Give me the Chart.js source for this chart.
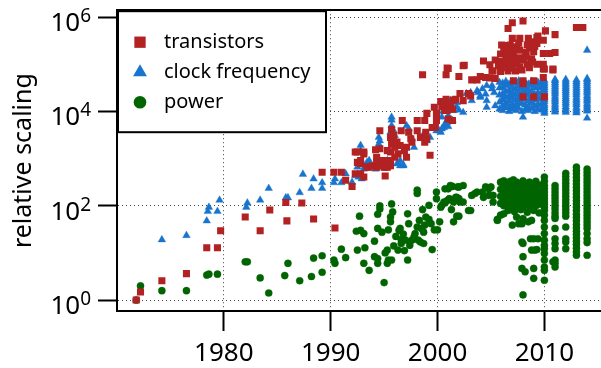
<!DOCTYPE html>
<html>
<head>
<meta charset="utf-8">
<script src="https://cdn.jsdelivr.net/npm/chart.js@4/dist/chart.umd.min.js"></script>
<style>
  html, body { margin: 0; padding: 0; background: #fff; }
  #wrap { width: 601px; height: 368px; }
</style>
</head>
<body>
<div id="wrap"><canvas id="scaling" width="601" height="368"></canvas></div>
<script>
// --- DATA: [year, log10(relative scaling)] ---
const transistors = [
  [1971.8,0.00],[1972.2,0.17],[1974.2,0.41],[1976.5,0.56],[1978.4,1.11],[1979.4,1.11],[1979.7,1.47],
  [1982.0,1.76],[1983.4,1.47],[1984.3,1.91],[1985.8,2.07],[1985.9,1.68],[1987.3,2.06],[1988.4,1.72],
  [1989.2,2.71],[1990.3,2.71],[1991.0,2.71],[1990.4,1.53],[1991.4,2.54],
  [1992.0,2.41],[1992.3,2.68],[1992.8,2.68],[1993.1,2.61],[1992.8,2.89],[1993.4,2.82],[1993.9,2.85],
  [1994.3,2.82],[1994.3,2.92],[1995.1,2.82],[1995.4,2.85],[1995.1,2.63],[1995.6,2.89],
  [1992.3,3.14],[1993.1,3.14],[1992.5,2.92],[1992.5,3.14],[1993.1,3.10],[1992.8,2.96],[1993.6,2.82],
  [1994.6,3.59],[1995.7,3.62],[1996.7,3.81],[1998.1,3.81],[1998.8,3.81],
  [1994.6,3.21],[1994.2,3.19],[1994.3,3.03],[1994.8,2.96],[1995.0,2.82],[1994.5,2.85],[1995.4,2.96],
  [1995.6,2.85],[1995.3,2.82],[1995.6,3.45],[1995.9,3.49],[1995.7,3.31],[1996.0,3.24],[1996.2,3.35],
  [1996.5,3.28],[1996.3,3.10],[1996.0,3.03],[1995.6,3.14],[1995.3,3.17],
  [1996.6,3.59],[1997.3,3.56],[1997.5,3.42],[1997.6,3.35],[1997.1,3.24],[1997.1,3.03],[1996.9,3.17],
  [1998.1,3.59],[1998.4,3.45],[1998.9,3.56],[1999.0,3.42],[1998.8,3.35],[1999.5,3.66],[1999.8,3.66],
  [1999.3,3.07],[1998.6,4.78],[1999.0,3.96],[1999.7,4.09],[1999.9,3.96],[1999.9,3.81],
  [2000.3,4.21],[2000.8,4.26],[2000.7,4.10],[2000.9,4.02],
  [2000.8,4.78],[2000.9,4.92],[2001.0,4.91],[2002.4,4.97],[2002.5,4.98],[2002.0,4.74],
  [2003.2,4.67],[2003.7,4.67],[2004.0,4.74],[2004.5,4.72],[2004.9,4.71],[2005.4,4.70],
  [2007.1,4.65],[2008.0,4.65],[2008.0,4.59],[2009.0,4.65],[2009.9,4.72],
  [2008.0,4.31],[2009.0,4.31],[2010.0,4.31],[2002.1,4.38],[2002.9,4.38],[2003.1,4.33],
  [2001.5,4.24],[2002.4,4.23],[2000.6,4.19],[2001.2,4.16],[2000.4,4.10],[2001.7,4.26],
  [2001.4,4.05],[2000.7,4.02],[2001.0,3.84],[2001.4,3.81],
  [2007.0,5.88],[2008.0,5.92],[2006.6,5.76],[2013.0,5.78],[2013.6,5.78],[2010.1,5.71],[2011.0,5.63],
  [2007.0,5.55],[2007.7,5.55],[2008.5,5.55],[2009.3,5.57],[2009.9,5.51],[2009.4,5.60],
  [2006.0,5.41],[2006.8,5.41],[2007.4,5.37],[2008.4,5.41],[2009.3,5.44],
  [2007.7,5.30],[2008.3,5.25],[2009.0,5.27],[2009.9,5.23],[2010.5,5.23],[2011.0,5.25],
  [2005.9,5.22],[2006.5,5.18],[2007.1,5.20],
  [2004.3,5.07],[2005.4,5.09],[2005.9,5.06],[2006.5,5.07],[2007.3,5.05],[2008.0,5.09],
  [2004.9,4.99],[2005.7,4.97],[2006.5,4.97],[2007.4,5.00],[2008.4,5.00],[2009.3,5.00],
  [2009.9,5.00],[2009.9,4.90],[2010.8,4.88],[2010.0,4.90],[2010.8,4.90],
  [2005.1,4.86],[2005.9,4.85],[2006.6,4.86],[2007.3,4.86],[2007.9,4.88],[2005.2,4.86],
  [2006.2,5.30],[2006.8,5.28],[2007.2,5.32],[2006.4,5.13],[2007.0,5.12],[2007.6,5.14],
  [2008.2,5.15],[2008.8,5.12],[2006.1,4.93],[2006.9,4.92],[2007.7,4.95],[2008.6,4.93],
  [2006.3,5.40],[2007.6,5.45],[2008.8,5.48],[2008.6,5.35],[2009.1,5.38],[2006.8,5.02],[2008.9,5.05]
];

const clockFreq = [
  [1971.8,0.00],[1974.2,1.28],[1976.5,1.37],[1978.4,1.68],[1978.5,1.88],[1978.6,1.97],[1979.4,1.88],
  [1979.6,2.12],[1982.2,2.06],[1982.1,1.97],[1983.4,2.12],[1984.2,2.37],[1985.8,2.17],[1986.0,2.17],
  [1987.1,2.28],[1987.4,2.67],[1988.2,2.37],[1988.4,2.57],[1989.2,2.49],[1989.2,2.37],[1990.3,2.49],
  [1990.4,2.57],[1991.0,2.49],[1991.4,2.68],
  [1992.0,2.50],[1992.3,2.64],[1992.6,2.61],[1992.9,2.57],[1993.1,2.78],[1993.4,2.92],[1992.8,2.89],
  [1994.2,2.78],[1994.6,2.85],[1995.1,2.82],[1996.2,2.89],[1996.5,2.85],[1996.8,2.87],
  [1992.8,3.28],[1992.8,3.17],[1994.5,3.45],[1994.6,3.38],[1994.5,3.31],[1995.7,3.82],[1995.7,3.70],
  [1995.9,3.59],[1996.0,3.49],[1997.1,3.70],[1997.3,3.63],[1997.6,3.42],[1997.8,3.24],[1998.7,3.52],
  [1999.0,3.38],[1999.3,3.45],[2000.6,3.66],[2000.9,3.77],[2001.0,3.91],[2000.3,3.56],[1999.9,3.59],
  [1996.5,2.96],[1996.8,2.85],[1993.6,2.96],[1993.2,2.83],[1992.5,2.82],[1995.6,3.56],[1995.3,2.96],
  [1995.7,3.88],[2000.2,3.59],[2000.7,3.74],[2000.4,3.88],[2000.9,3.81],[2000.4,3.63],[2001.0,3.68],
  [2001.4,3.81],[2000.8,4.20],[2001.3,4.14],[2000.5,4.00],[2001.2,4.23],[2001.8,4.19],
  [2002.0,4.03],[2002.4,3.98],[2003.1,4.40],[2003.2,4.23],[2003.8,4.40],[2004.2,4.48],[2004.5,4.37],
  [2004.0,4.30],[2004.6,4.09],[2005.4,4.12],[2005.1,4.55],[2005.1,4.48],[2005.3,4.40],[2004.6,4.55],
  [2003.7,4.44],[2004.0,4.33],[2004.6,4.23],[2002.7,4.38],[2001.5,4.02],[2001.8,4.09],
  // dense block 2006-2010
  [2005.8,4.05],[2005.8,4.20],[2005.8,4.35],[2005.8,4.50],[2005.8,4.62],
  [2006.1,4.02],[2006.1,4.12],[2006.1,4.25],[2006.1,4.38],[2006.1,4.50],[2006.1,4.60],
  [2006.4,4.08],[2006.4,4.18],[2006.4,4.30],[2006.4,4.42],[2006.4,4.55],[2006.4,4.64],
  [2006.7,4.00],[2006.7,4.10],[2006.7,4.22],[2006.7,4.33],[2006.7,4.45],[2006.7,4.58],
  [2007.0,4.05],[2007.0,4.15],[2007.0,4.28],[2007.0,4.40],[2007.0,4.52],[2007.0,4.63],
  [2007.3,4.02],[2007.3,4.12],[2007.3,4.24],[2007.3,4.36],[2007.3,4.48],[2007.3,4.60],
  [2007.6,4.06],[2007.6,4.18],[2007.6,4.30],[2007.6,4.42],[2007.6,4.54],[2007.6,4.65],
  [2007.9,4.00],[2007.9,4.17],[2007.9,4.26],[2007.9,4.38],[2007.9,4.50],[2007.9,4.61],
  [2008.2,4.04],[2008.2,4.14],[2008.2,4.28],[2008.2,4.40],[2008.2,4.52],[2008.2,4.62],
  [2008.5,4.02],[2008.5,4.10],[2008.5,4.22],[2008.5,4.35],[2008.5,4.47],[2008.5,4.58],
  [2008.8,4.06],[2008.8,4.18],[2008.8,4.30],[2008.8,4.43],[2008.8,4.55],[2008.8,4.64],
  [2009.1,4.00],[2009.1,4.12],[2009.1,4.25],[2009.1,4.37],[2009.1,4.50],[2009.1,4.60],
  [2009.4,4.05],[2009.4,4.16],[2009.4,4.28],[2009.4,4.40],[2009.4,4.52],[2009.4,4.62],
  [2009.7,4.03],[2009.7,4.14],[2009.7,4.26],[2009.7,4.38],[2009.7,4.50],[2009.7,4.60],
  [2006.2,4.32],[2006.9,4.36],[2007.5,4.20],[2008.1,4.46],[2008.7,4.24],[2009.3,4.34],
  // yearly columns 2010-2014
  [2010.0,3.96],[2010.0,4.00],[2010.0,4.04],[2010.0,4.08],[2010.0,4.12],[2010.0,4.16],[2010.0,4.21],
  [2010.0,4.25],[2010.0,4.29],[2010.0,4.33],[2010.0,4.38],[2010.0,4.42],[2010.0,4.46],[2010.0,4.50],
  [2010.0,4.54],[2010.0,4.58],[2010.0,4.62],[2010.0,4.66],
  [2011.0,3.99],[2011.0,4.03],[2011.0,4.07],[2011.0,4.11],[2011.0,4.15],[2011.0,4.20],[2011.0,4.24],
  [2011.0,4.28],[2011.0,4.32],[2011.0,4.37],[2011.0,4.41],[2011.0,4.45],[2011.0,4.49],[2011.0,4.53],
  [2011.0,4.57],[2011.0,4.61],[2011.0,4.65],[2011.0,4.68],
  [2012.0,3.98],[2012.0,4.02],[2012.0,4.06],[2012.0,4.10],[2012.0,4.15],[2012.0,4.19],[2012.0,4.23],
  [2012.0,4.27],[2012.0,4.31],[2012.0,4.36],[2012.0,4.40],[2012.0,4.44],[2012.0,4.48],[2012.0,4.52],
  [2012.0,4.56],[2012.0,4.60],[2012.0,4.64],[2012.0,4.68],
  [2013.0,3.97],[2013.0,4.01],[2013.0,4.05],[2013.0,4.09],[2013.0,4.14],[2013.0,4.18],[2013.0,4.22],
  [2013.0,4.26],[2013.0,4.30],[2013.0,4.35],[2013.0,4.39],[2013.0,4.43],[2013.0,4.47],[2013.0,4.51],
  [2013.0,4.55],[2013.0,4.59],[2013.0,4.63],[2013.0,4.67],
  [2014.0,4.01],[2014.0,4.05],[2014.0,4.09],[2014.0,4.13],[2014.0,4.17],[2014.0,4.22],[2014.0,4.26],
  [2014.0,4.30],[2014.0,4.34],[2014.0,4.39],[2014.0,4.43],[2014.0,4.47],[2014.0,4.51],[2014.0,4.55],
  [2014.0,4.59],[2014.0,4.63],[2014.0,4.67],[2014.0,4.70],
  [2008.0,3.88],[2014.0,3.86],[2014.0,5.30]
];

const power = [
  [1971.8,0.00],[1972.2,0.30],[1974.2,0.20],[1976.5,0.20],[1978.4,0.53],[1978.6,0.55],[1979.4,0.55],
  [1982.0,0.81],[1982.2,0.81],[1983.4,0.47],[1984.2,0.15],[1985.7,0.52],[1986.0,0.78],[1987.1,0.41],
  [1988.2,0.50],[1988.4,0.89],[1989.2,0.94],[1989.2,0.59],[1990.3,0.85],[1990.4,0.78],[1991.0,1.08],
  [1991.4,0.90],
  [1992.4,1.46],[1992.8,1.48],[1993.1,1.41],[1992.7,1.78],[1992.5,1.06],[1993.2,1.11],[1993.1,0.78],
  [1993.6,0.63],[1994.1,0.92],[1994.4,0.88],[1994.4,0.78],[1994.6,2.00],[1994.6,1.93],[1994.4,1.82],
  [1994.4,1.52],[1994.1,1.25],[1994.8,1.44],[1995.0,0.37],[1995.1,1.00],[1995.3,1.06],[1995.3,0.78],
  [1995.4,0.85],[1995.4,1.49],[1995.6,1.66],[1995.8,1.87],[1995.6,1.76],[1995.7,2.04],[1995.7,0.85],
  [1996.3,1.06],[1996.1,1.35],[1996.4,1.48],[1996.5,1.52],[1996.6,1.28],[1996.6,1.20],[1997.0,1.27],
  [1997.2,0.85],[1997.2,1.83],[1997.3,1.62],[1997.4,1.16],[1997.6,1.27],[1997.8,1.34],[1997.9,1.41],
  [1998.1,1.55],[1998.1,2.26],[1998.1,2.33],[1998.2,1.27],[1998.4,1.23],[1998.3,1.69],[1998.5,1.52],
  [1998.7,1.44],[1998.8,1.59],[1998.7,1.20],[1998.6,1.92],[1998.9,1.76],[1999.2,1.71],[1999.4,1.62],
  [1999.2,2.01],[1999.5,1.07],[1999.7,1.49],[2000.0,1.49],[1999.9,2.29],[1999.9,2.15],[2000.2,1.66],
  [2000.4,2.01],[2000.7,2.06],[2000.9,2.11],[2001.1,2.15],[2001.0,2.36],[2001.4,2.41],[2001.9,2.40],
  [2001.3,1.92],[2001.5,1.66],[2002.0,1.78],[2001.5,2.11],[2001.8,2.18],[1996.8,1.40],[1995.9,1.15],
  [1996.9,1.05],
  [2002.4,2.43],[2001.2,2.43],[2002.1,2.08],[2001.5,2.08],[2002.9,1.90],[2003.1,1.90],[2003.2,2.22],
  [2003.5,2.26],[2003.7,2.29],[2004.2,2.29],[2004.5,2.40],[2004.8,2.36],[2005.0,2.40],[2004.3,2.18],
  [2004.8,2.22],[2005.2,2.22],[2005.2,2.08],[2005.6,1.69],[2005.9,1.80],[2006.2,1.83],[2002.0,2.15],
  [2002.4,2.08],[2000.6,2.08],[2001.7,2.18],[2000.3,1.97],[2002.0,2.40],[2000.7,2.36],[2001.8,1.78],
  // dense block 2006-2010
  [2005.9,2.05],[2005.9,2.20],[2005.9,2.35],[2005.9,2.50],
  [2006.2,2.00],[2006.2,2.12],[2006.2,2.28],[2006.2,2.42],[2006.2,2.53],
  [2006.5,2.04],[2006.5,2.18],[2006.5,2.32],[2006.5,2.46],
  [2006.8,1.98],[2006.8,2.10],[2006.8,2.25],[2006.8,2.38],[2006.8,2.52],
  [2007.1,2.02],[2007.1,2.15],[2007.1,2.30],[2007.1,2.44],[2007.1,2.55],
  [2007.4,1.99],[2007.4,2.08],[2007.4,2.22],[2007.4,2.36],[2007.4,2.50],
  [2007.7,2.04],[2007.7,2.17],[2007.7,2.31],[2007.7,2.45],
  [2008.0,1.98],[2008.0,2.12],[2008.0,2.26],[2008.0,2.40],[2008.0,2.53],
  [2008.3,2.03],[2008.3,2.16],[2008.3,2.30],[2008.3,2.43],
  [2008.6,1.99],[2008.6,2.10],[2008.6,2.24],[2008.6,2.38],[2008.6,2.50],
  [2008.9,2.05],[2008.9,2.18],[2008.9,2.32],[2008.9,2.46],
  [2009.2,2.00],[2009.2,2.14],[2009.2,2.28],[2009.2,2.42],[2009.2,2.52],
  [2009.5,2.03],[2009.5,2.16],[2009.5,2.30],[2009.5,2.44],
  [2006.6,1.90],[2007.2,1.88],[2007.8,1.92],[2008.4,1.86],[2009.0,1.90],[2009.5,1.85],[2005.6,1.71],
  [2007.0,1.59],[2007.6,1.62],[2007.9,1.62],[2008.5,1.66],[2008.8,1.69],[2008.0,1.73],[2007.4,1.76],
  [2007.9,1.23],[2008.0,0.92],[2007.9,0.67],[2008.2,0.60],[2008.0,0.11],[2008.0,1.20],
  [2008.7,1.30],[2009.0,1.30],[2009.4,1.30],[2008.8,1.06],[2009.1,1.06],[2009.3,1.07],
  [2009.0,0.67],[2009.0,0.46],[2010.8,0.81],[2011.0,0.70],
  // yearly columns 2010-2014
  [2010.0,2.61],[2010.0,2.52],[2010.0,2.43],[2010.0,2.36],[2010.0,2.29],[2010.0,2.22],[2010.0,2.15],
  [2010.0,2.08],[2010.0,2.02],[2010.0,1.96],[2010.0,1.90],[2010.0,1.80],[2010.0,1.69],[2010.0,1.55],
  [2010.0,1.41],[2010.0,1.27],[2010.0,1.16],[2010.0,1.09],[2010.0,0.99],[2010.0,0.85],[2010.0,0.70],
  [2010.0,0.63],[2010.0,0.42],
  [2011.0,2.43],[2011.0,2.36],[2011.0,2.29],[2011.0,2.22],[2011.0,2.15],[2011.0,2.08],[2011.0,2.00],
  [2011.0,1.93],[2011.0,1.85],[2011.0,1.78],[2011.0,1.73],[2011.0,1.52],[2011.0,1.30],[2011.0,1.20],
  [2011.0,1.09],[2011.0,0.85],[2011.0,0.78],
  [2012.0,2.69],[2012.0,2.62],[2012.0,2.55],[2012.0,2.48],[2012.0,2.41],[2012.0,2.34],[2012.0,2.27],
  [2012.0,2.20],[2012.0,2.13],[2012.0,2.06],[2012.0,1.99],[2012.0,1.92],[2012.0,1.85],[2012.0,1.78],
  [2012.0,1.55],[2012.0,1.30],[2012.0,1.23],[2012.0,1.09],
  [2013.0,2.82],[2013.0,2.75],[2013.0,2.68],[2013.0,2.60],[2013.0,2.53],[2013.0,2.46],[2013.0,2.39],
  [2013.0,2.32],[2013.0,2.25],[2013.0,2.18],[2013.0,2.11],[2013.0,2.04],[2013.0,1.97],[2013.0,1.90],
  [2013.0,1.82],[2013.0,1.75],[2013.0,1.68],[2013.0,1.60],[2013.0,1.53],[2013.0,1.46],[2013.0,1.39],
  [2013.0,1.32],[2013.0,1.25],[2013.0,1.18],[2013.0,1.10],[2013.0,1.02],[2013.0,0.95],
  [2014.0,2.78],[2014.0,2.71],[2014.0,2.64],[2014.0,2.57],[2014.0,2.50],[2014.0,2.43],[2014.0,2.36],
  [2014.0,2.29],[2014.0,2.22],[2014.0,2.15],[2014.0,2.08],[2014.0,2.01],[2014.0,1.94],[2014.0,1.87],
  [2014.0,1.80],[2014.0,1.73],[2014.0,1.66],[2014.0,1.59],[2014.0,1.52],[2014.0,1.41],[2014.0,1.30],
  [2014.0,1.22],[2014.0,0.95]
];

const yearTicks = [1980, 1990, 2000, 2010];
const decadeTicks = [0, 2, 4, 6];   // exponents of 10
const seriesNames = ['transistors', 'clock frequency', 'power'];

// --- STYLE ---
const RED = '#b22222';
const BLUE = '#1874cd';
const GREEN = '#006400';
const FONT = "'Noto Sans', 'Open Sans', sans-serif";

const toPoints = arr => arr.map(([yr, lg]) => ({ x: yr, y: Math.pow(10, lg) }));

// plain outline on top edge of the plot
const topFrame = {
    position: 'top',
    min: 1970, max: 2015.3,
    grid: { display: false },
    ticks: { display: false },
    border: { display: true, color: '#000', width: 2 },
    afterFit: s => { s.height = 0; }
};

// y labels 10^n, drawn with a raised exponent
const powerLabels = {
    id: 'powerLabels',
    afterDraw(chart) {
        const ctx = chart.ctx;
        const ys = chart.scales.y;
        ctx.save();
        ctx.fillStyle = '#000';
        ctx.textAlign = 'right';
        ctx.textBaseline = 'alphabetic';
        decadeTicks.forEach(e => {
            const py = ys.getPixelForValue(Math.pow(10, e));
            const right = ys.right - 26;
            ctx.font = '19px ' + FONT;
            const w = ctx.measureText(String(e)).width;
            ctx.fillText(String(e), right, py + 5);
            ctx.font = '26px ' + FONT;
            ctx.fillText('10', right - w, py + 14);
        });
        ctx.restore();
    }
};

// boxed legend in the top left corner of the plot
const boxLegend = {
    id: 'boxLegend',
    afterDraw(chart) {
        const ctx = chart.ctx;
        const area = chart.chartArea;
        const x0 = area.left + 1, y0 = area.top + 1, w = 208, h = 121;
        ctx.save();
        ctx.fillStyle = '#fff';
        ctx.fillRect(x0, y0, w, h);
        ctx.lineWidth = 2;
        ctx.strokeStyle = '#000';
        ctx.strokeRect(x0, y0, w, h);
        const styles = [
            { pointStyle: 'rect', radius: 8, color: RED },
            { pointStyle: 'triangle', radius: 8, color: BLUE },
            { pointStyle: 'circle', radius: 6.3, color: GREEN }
        ];
        ctx.font = '20px ' + FONT;
        ctx.textAlign = 'left';
        ctx.textBaseline = 'alphabetic';
        seriesNames.forEach((name, i) => {
            const cy = y0 + 31 + i * 30;
            const st = styles[i];
            ctx.fillStyle = st.color;
            Chart.helpers.drawPoint(ctx, { pointStyle: st.pointStyle, radius: st.radius, rotation: 0, borderWidth: 0 }, x0 + 22, cy);
            ctx.fillStyle = '#000';
            ctx.fillText(name, x0 + 46, cy + 6);
        });
        ctx.restore();
    }
};

new Chart(document.getElementById('scaling'), {
    type: 'scatter',
    data: {
        datasets: [
            {
                label: seriesNames[0],
                data: toPoints(transistors),
                pointStyle: 'rect',
                backgroundColor: RED,
                borderWidth: 0,
                pointRadius: 5
            },
            {
                label: seriesNames[1],
                data: toPoints(clockFreq),
                pointStyle: 'triangle',
                backgroundColor: BLUE,
                borderColor: 'rgba(24,116,205,0.35)',
                borderWidth: 1,
                pointRadius: 4.4
            },
            {
                label: seriesNames[2],
                data: toPoints(power),
                pointStyle: 'circle',
                backgroundColor: GREEN,
                borderColor: 'rgba(0,100,0,0.35)',
                borderWidth: 1,
                pointRadius: 3.6
            }
        ]
    },
    options: {
        responsive: false,
        devicePixelRatio: 1,
        animation: false,
        layout: { autoPadding: false, padding: { top: 9, right: 0, bottom: 0, left: 0 } },
        plugins: { legend: { display: false }, tooltip: { enabled: false } },
        scales: {
            x: {
                type: 'linear',
                position: 'bottom',
                min: 1970, max: 2015.3,
                bounds: 'data',
                afterBuildTicks: s => { s.ticks = yearTicks.map(v => ({ value: v })); },
                afterFit: s => { s.height = 57; },
                grid: { color: '#444', lineWidth: 1, tickLength: 20, tickColor: '#000', tickWidth: 2 },
                border: { display: true, color: '#000', width: 2, dash: [1, 3] },
                ticks: {
                    color: '#000', padding: 7, maxRotation: 0,
                    font: { family: FONT, size: 26 },
                    callback: v => String(v)
                }
            },
            x2: topFrame,
            y: {
                type: 'logarithmic',
                position: 'left',
                min: Math.pow(10, -0.232), max: Math.pow(10, 6.148),
                bounds: 'data',
                afterBuildTicks: s => { s.ticks = decadeTicks.map(e => ({ value: Math.pow(10, e) })); },
                afterFit: s => { s.width = 117; },
                grid: { color: '#444', lineWidth: 1, tickLength: 19, tickColor: '#000', tickWidth: 2 },
                border: { display: true, color: '#000', width: 2, dash: [1, 3] },
                ticks: { callback: () => '' },
                title: {
                    display: true,
                    text: 'relative scaling',
                    color: '#000',
                    font: { family: FONT, size: 25 },
                    padding: { top: 9, bottom: 0 }
                }
            }
        }
    },
    plugins: [powerLabels, boxLegend]
});
</script>
</body>
</html>
